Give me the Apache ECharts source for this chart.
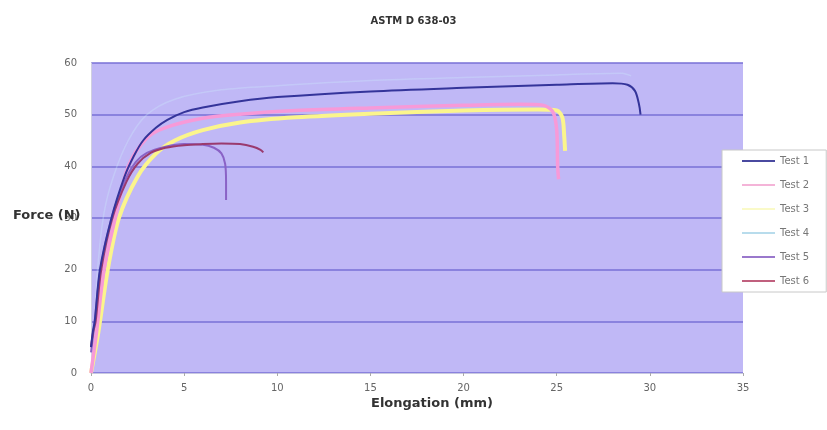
<!DOCTYPE html>
<html>
<head>
<meta charset="utf-8">
<script src="https://cdn.jsdelivr.net/npm/echarts@6/dist/echarts.min.js"></script>
<style>
  html, body { margin: 0; padding: 0; background: #fff; }
  #chart { width: 827px; height: 430px; }
</style>
</head>
<body>
<div id="chart"></div>
<script>
// 数据：[伸长量 mm, 力]
const test1 = [[0, 5], [0.1, 8], [0.2, 10], [0.48, 20], [1.1, 30], [1.8, 38], [2.3, 42], [2.8, 45], [3.5, 47.5], [4.1, 49], [5, 50.5], [6, 51.4], [8, 52.6], [10, 53.4], [15, 54.5], [20, 55.2], [25, 55.8], [28, 56.1], [28.8, 55.8], [29.2, 54.6], [29.4, 52.3], [29.5, 50]];
const test2 = [[0, 0], [0.3, 8], [0.7, 20], [1.3, 30], [2, 40], [3, 45.5], [4, 47.5], [6, 49.3], [8, 50.1], [11, 50.8], [15, 51.3], [20, 51.8], [23, 52], [24.3, 51.8], [24.8, 50.5], [25, 47], [25.05, 40], [25.1, 37.5]];
const test3 = [[0, 0], [0.4, 8], [0.9, 20], [1.5, 30], [2.5, 38], [3.5, 42.5], [4.5, 45], [6, 47], [8, 48.5], [11, 49.5], [15, 50.2], [20, 50.8], [24, 51], [25, 50.8], [25.3, 49.5], [25.4, 46], [25.45, 43]];
const test4 = [[0, 0], [0.2, 10], [0.35, 20], [0.7, 31], [1.2, 38], [2, 45], [3, 50], [4.5, 53], [7, 54.8], [10, 55.6], [15, 56.6], [20, 57.2], [25, 57.7], [28.5, 58], [29, 57.5]];
const test5 = [[0, 4], [0.1, 7], [0.2, 10], [0.5, 20], [1.1, 30], [1.8, 37], [2.4, 40.8], [3, 42.6], [4, 43.8], [5, 44.3], [6, 44.2], [6.6, 43.6], [7, 42.5], [7.2, 40.5], [7.25, 37], [7.25, 33.5]];
const test6 = [[0, 5], [0.12, 8], [0.25, 10], [0.55, 20], [1.15, 30], [1.9, 37], [2.5, 40.5], [3.2, 42.6], [4, 43.6], [5, 44.1], [6, 44.3], [7, 44.4], [8, 44.3], [8.7, 43.8], [9.1, 43.2], [9.25, 42.7]];

const seriesNames = ['Test 1', 'Test 2', 'Test 3', 'Test 4', 'Test 5', 'Test 6'];
const seriesData = [test1, test2, test3, test4, test5, test6];
const seriesColors = ['#34349a', '#f79ad8', '#fbf58c', '#cdeefb', '#8a62c6', '#9a3a6e'];
const seriesWidths = [2, 3.5, 4, 1.5, 2, 2];
const seriesOpacity = [1, 1, 1, 0.3, 1, 1];
// 图例颜色（图例中的线条更浅）
const legendColors = ['#4a4aa0', '#f4b4d8', '#fafac8', '#b8dcec', '#9a78cc', '#c0607e'];

const chart = echarts.init(document.getElementById('chart'));

const option = {
  animation: false,
  title: {
    text: 'ASTM D 638-03',
    left: 'center',
    top: 11,
    textStyle: { fontFamily: 'DejaVu Sans', fontSize: 10, fontWeight: 'bold', color: '#333' }
  },
  grid: {
    left: 91, right: 84, top: 63, bottom: 57,
    show: true, backgroundColor: '#c0b8f6', borderWidth: 0
  },
  legend: {
    orient: 'vertical',
    left: 722,
    top: 150,
    icon: 'rect',
    itemWidth: 33,
    itemHeight: 2,
    itemGap: 14,
    padding: [6, 17, 6, 20],
    backgroundColor: '#fff',
    borderColor: '#c8c8c8',
    borderWidth: 1,
    z: 20,
    data: seriesNames.map((name, i) => ({ name: name, itemStyle: { color: legendColors[i] } })),
    textStyle: { fontFamily: 'DejaVu Sans', fontSize: 10, color: '#777' }
  },
  xAxis: {
    type: 'value', min: 0, max: 35, interval: 5,
    axisLine: { show: true, lineStyle: { color: '#c8c8e0' } },
    axisTick: { show: true, length: 3, lineStyle: { color: '#aaa' } },
    splitLine: { show: false },
    axisLabel: { fontFamily: 'DejaVu Sans', fontSize: 10, color: '#666', margin: 10 }
  },
  yAxis: {
    type: 'value', min: 0, max: 60, interval: 10,
    axisLine: { show: true, lineStyle: { color: '#d0d0e0' } },
    axisTick: { show: false },
    splitLine: { show: true, lineStyle: { color: '#7870d6', width: 1.5 } },
    axisLabel: { fontFamily: 'DejaVu Sans', fontSize: 10, color: '#666', margin: 14 }
  },
  graphic: [
    {
      type: 'text', left: 13, top: 209, z: 10,
      style: { text: 'Force (N)', font: 'bold 13px DejaVu Sans', fill: '#333' }
    },
    {
      type: 'text', left: 371, top: 397, z: 10,
      style: { text: 'Elongation (mm)', font: 'bold 13px DejaVu Sans', fill: '#333' }
    }
  ],
  series: seriesNames.map((name, i) => ({
    name: name,
    type: 'line',
    data: seriesData[i],
    symbol: 'none',
    smooth: 0.3,
    color: seriesColors[i],
    lineStyle: { color: seriesColors[i], width: seriesWidths[i], opacity: seriesOpacity[i] },
    z: [8, 4, 3, 2, 6, 7][i]
  }))
};

chart.setOption(option);
</script>
</body>
</html>
